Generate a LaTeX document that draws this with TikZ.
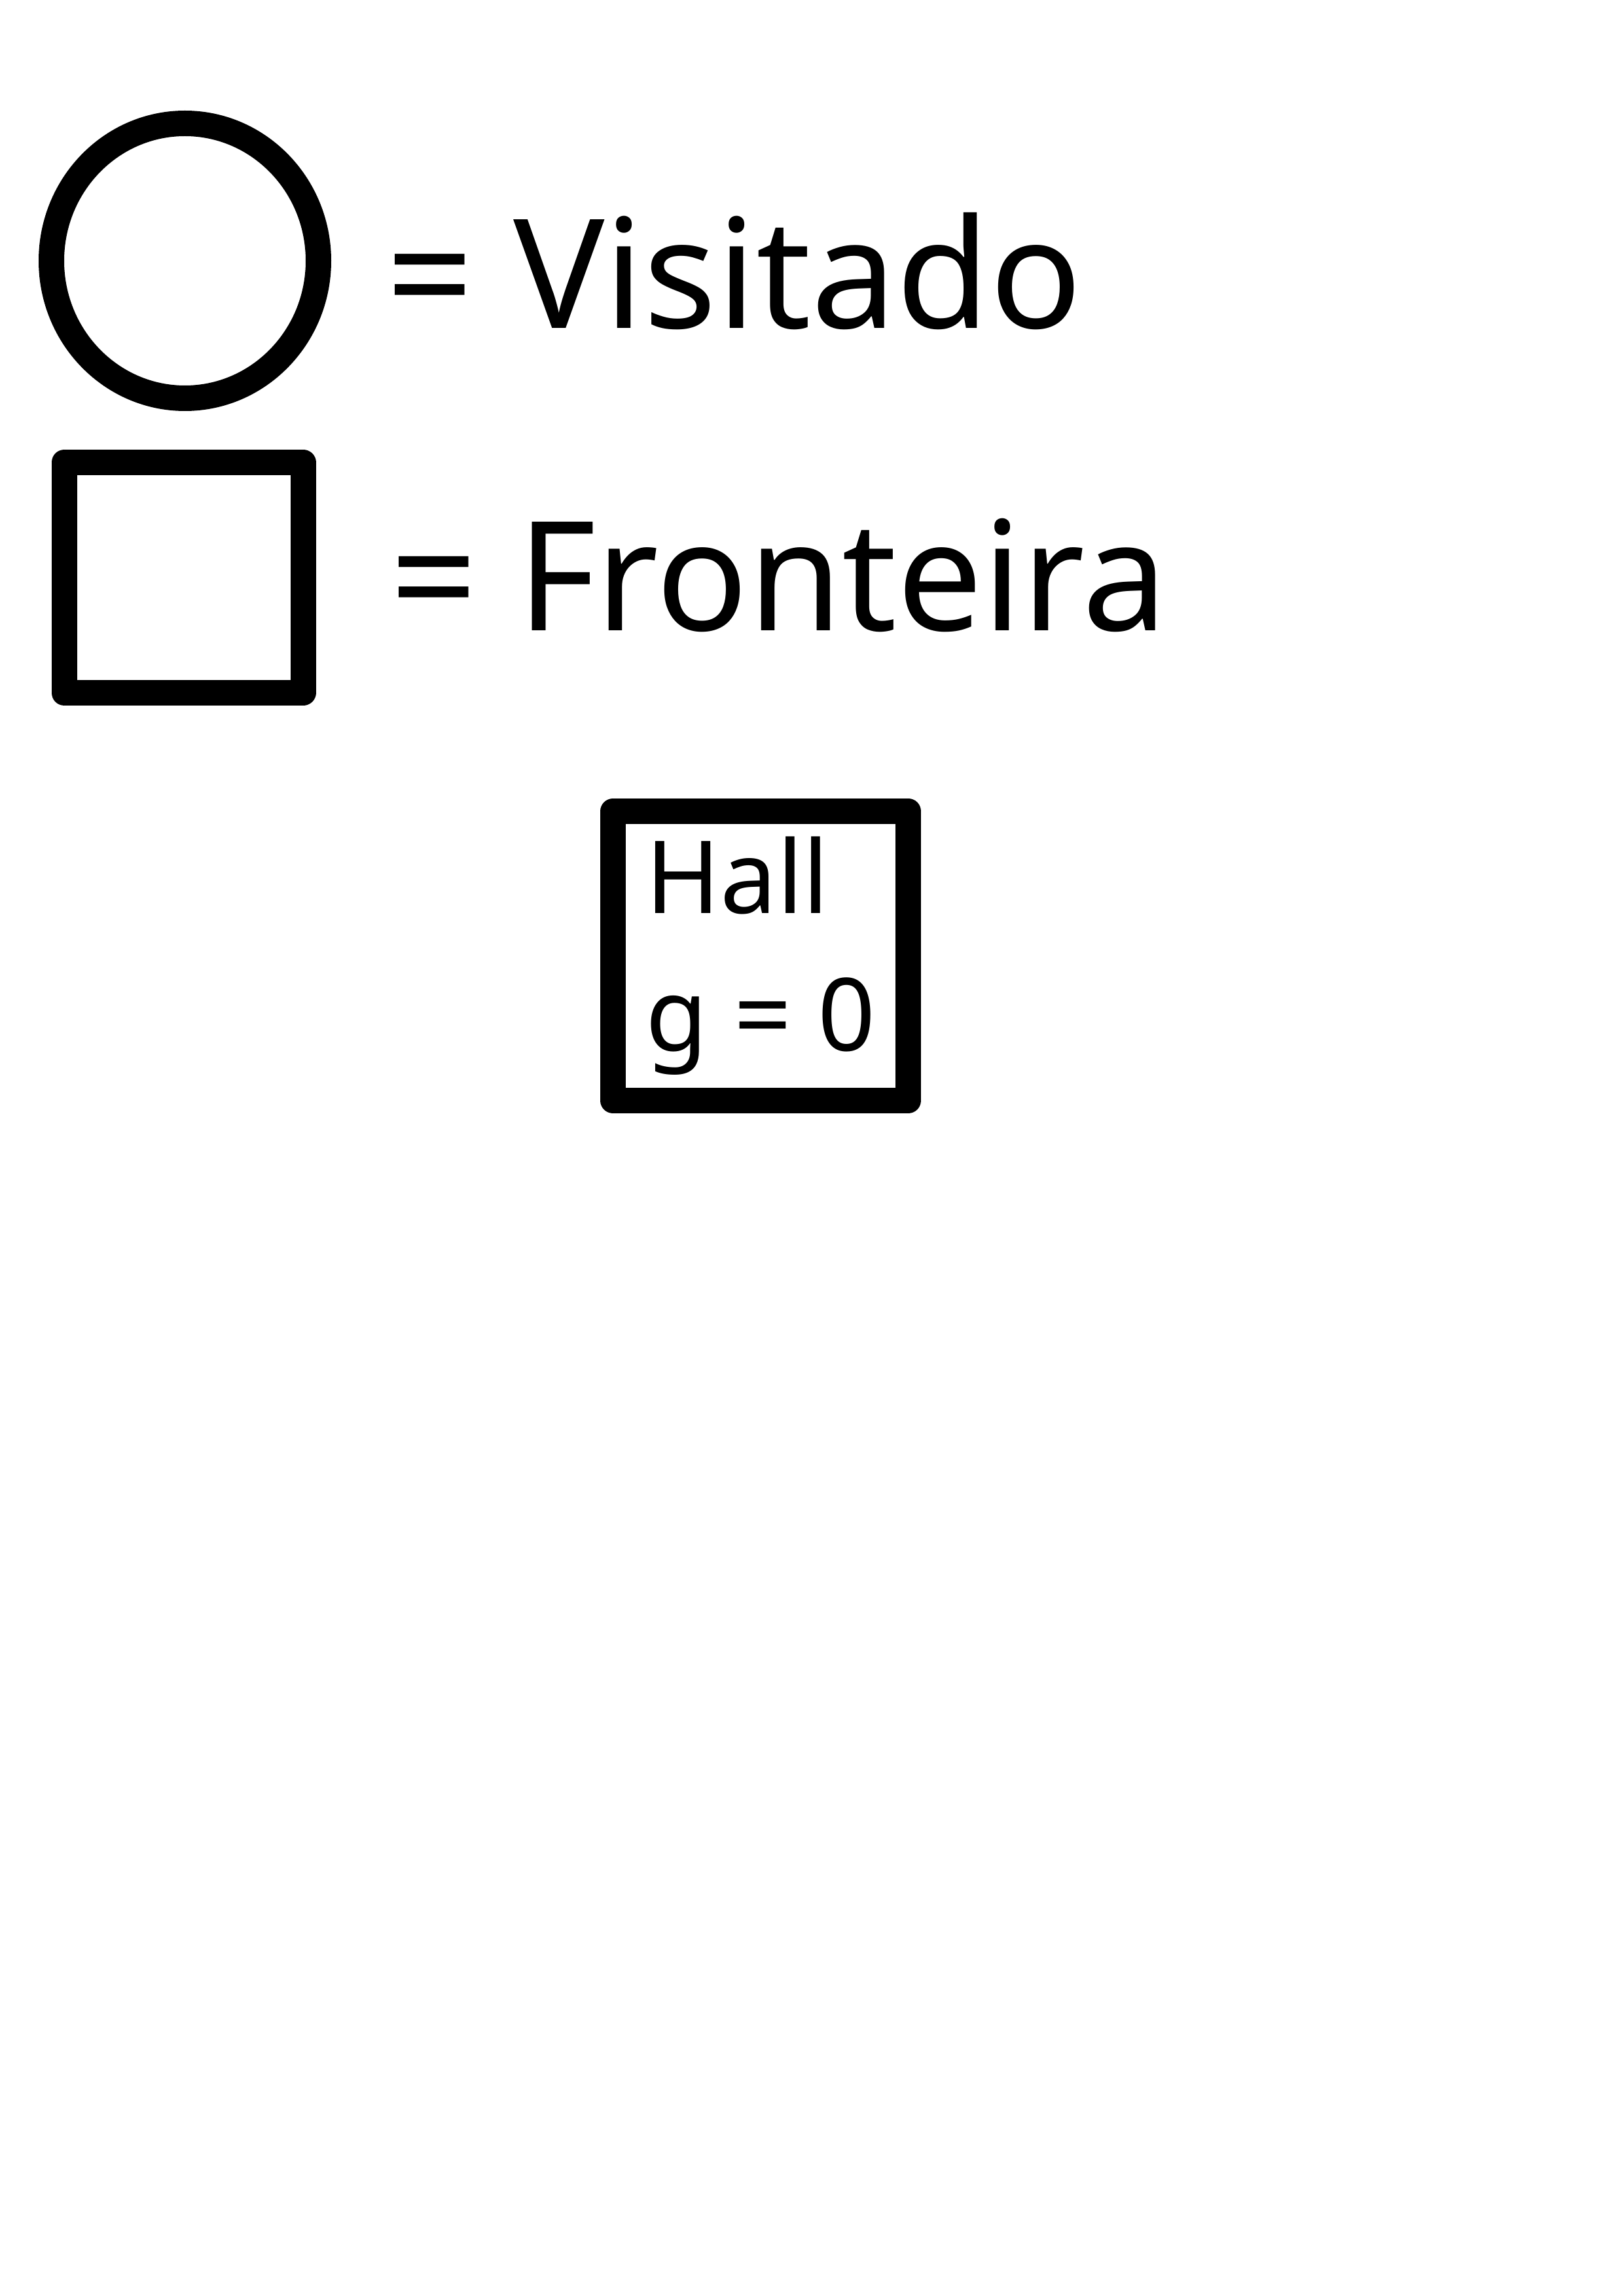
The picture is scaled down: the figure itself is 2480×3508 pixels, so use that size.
\documentclass[tikz,border=0pt]{standalone}
\usepackage{fontspec}
\setmainfont{Noto Sans}
\usepackage{tikz}
\usetikzlibrary{positioning, shapes.geometric}

\tikzset{
    legendshape/.style={draw, line width=9.36pt, inner sep=0pt, line join=round},
    legendtext/.style={anchor=base west, inner sep=0pt, font=\fontsize{55.8}{60}\selectfont},
    roombox/.style={draw, line width=9.36pt, inner sep=0pt, line join=round,
        align=left, font=\fontsize{37}{50.4}\selectfont}
}

\begin{document}
\begin{tikzpicture}[x=0.24pt, y=-0.24pt]
    \useasboundingbox (0,0) rectangle (2480,3508);

    % legenda
    \node[legendshape, ellipse, minimum width=97.92pt, minimum height=100.8pt] (visitado) at (282.5,398.5) {};
    \node[legendtext] (visitadotxt) at (590,502) {= Visitado};

    \node[legendshape, rectangle, minimum width=87.6pt, minimum height=84.48pt] (fronteira) at (280.5,882.5) {};
    \node[legendtext] (fronteiratxt) at (596,963) {= Fronteira};

    % no inicial
    \node[
        roombox,
        rectangle,
        minimum width=108.24pt,
        minimum height=106.08pt
    ] (hall) at (1162,1460.5) {
        Hall\\
        g = 0
    };
\end{tikzpicture}
\end{document}
